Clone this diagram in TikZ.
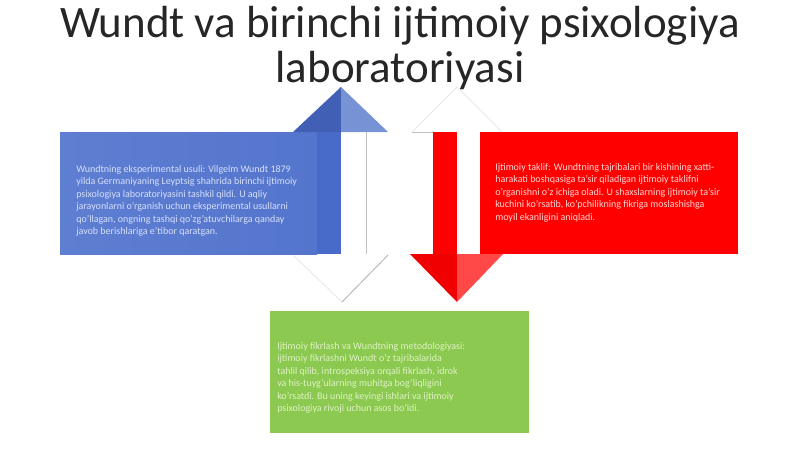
\documentclass[tikz,border=0pt]{standalone}
\usepackage{fontspec}
\setmainfont{Carlito}
\definecolor{boxblue}{RGB}{84,117,204}
\definecolor{boxblueL}{RGB}{94,126,210}
\definecolor{shaftblue}{RGB}{72,106,200}
\definecolor{headblueL}{RGB}{120,146,214}
\definecolor{boxred}{RGB}{255,0,0}
\definecolor{headredL}{RGB}{255,72,72}
\definecolor{boxgreen}{RGB}{140,201,80}
\definecolor{txtblue}{RGB}{214,224,250}
\definecolor{txtred}{RGB}{255,214,214}
\definecolor{txtgreen}{RGB}{222,242,196}
\definecolor{ghost}{RGB}{232,232,232}
\tikzset{
  boxtext/.style={anchor=north west, align=left, inner sep=0pt,
    font=\fontsize{7.1}{8.9}\selectfont},
  ghostedge/.style={draw=ghost, line width=0.6pt},
}
\begin{document}
\begin{tikzpicture}[x=0.025cm,y=-0.025cm]
\useasboundingbox (0,0) rectangle (800,449);
\fill[white] (0,0) rectangle (800,449);

\node[align=center, inner sep=0pt, font=\fontsize{32}{32.5}\selectfont, text=black!85] (T0) at (400,48)
  {Wundt va birinchi ijtimoiy psixologiya\\laboratoriyasi};

\shade[left color=boxblueL, right color=boxblue] (60,132) rectangle (317,254);
\fill[shaftblue] (317,132) rectangle (341,254);
\fill[shaftblue!90!black] (293,132) -- (341,87) -- (341,132) -- cycle;
\fill[headblueL] (341,87) -- (388,132) -- (341,132) -- cycle;
\draw[black!25, line width=0.6pt] (366,132) -- (366,254);
\fill[white] (293,255) -- (388,255) -- (342,302) -- cycle;
\draw[ghostedge] (293,255) -- (342,302);
\draw[black!30, line width=0.6pt] (388,255) -- (342,302);

\fill[boxred] (480,132) rectangle (738,254);
\fill[boxred] (433,132) rectangle (457,254);
\fill[boxred!94!black] (410,254) -- (457,254) -- (457,302) -- cycle;
\fill[headredL] (457,254) -- (503,254) -- (457,302) -- cycle;
\draw[black!25, line width=0.6pt] (412,132) -- (433,132);
\draw[ghostedge] (412,132) -- (457,87) -- (502,132);

\fill[boxgreen] (270,311) rectangle (529,433);

\node[boxtext, text=txtblue] (T1) at (76,165)
  {Wundtning eksperimental usuli: Vilgelm Wundt 1879\\
   yilda Germaniyaning Leyptsig shahrida birinchi ijtimoiy\\
   psixologiya laboratoriyasini tashkil qildi. U aqliy\\
   jarayonlarni o'rganish uchun eksperimental usullarni\\
   qo'llagan, ongning tashqi qo'zg'atuvchilarga qanday\\
   javob berishlariga e'tibor qaratgan.};

\node[boxtext, text=txtred] (T2) at (495,163)
  {Ijtimoiy taklif: Wundtning tajribalari bir kishining xatti-\\
   harakati boshqasiga ta'sir qiladigan ijtimoiy taklifni\\
   o'rganishni o'z ichiga oladi. U shaxslarning ijtimoiy ta'sir\\
   kuchini ko'rsatib, ko'pchilikning fikriga moslashishga\\
   moyil ekanligini aniqladi.};

\node[boxtext, text=txtgreen] (T3) at (277,342)
  {Ijtimoiy fikrlash va Wundtning metodologiyasi:\\
   ijtimoiy fikrlashni Wundt o'z tajribalarida\\
   tahlil qilib, introspeksiya orqali fikrlash, idrok\\
   va his-tuyg'ularning muhitga bog'liqligini\\
   ko'rsatdi. Bu uning keyingi ishlari va ijtimoiy\\
   psixologiya rivoji uchun asos bo'ldi.};
\end{tikzpicture}
\end{document}
